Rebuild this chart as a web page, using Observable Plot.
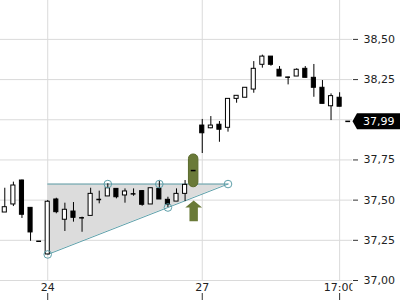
<!DOCTYPE html>
<html><head><meta charset="utf-8">
<script src="https://cdn.jsdelivr.net/npm/d3@7"></script>
<script src="https://cdn.jsdelivr.net/npm/@observablehq/plot@0.6"></script>
<style>
body{margin:0;background:#fff;}
#chart{width:400px;height:300px;overflow:hidden;}
</style>
</head><body><div id="chart"></div>
<script>
// ---- data ----
const openV  = [37.423,37.473,37.622,37.452,37.244,37.162,37.504,37.378,37.429,37.390,37.402,37.504,37.523,37.570,37.529,37.539,37.556,37.473,37.570,37.502,37.491,37.539,37.684,37.964,37.947,37.969,37.950,38.130,38.137,38.188,38.342,38.393,38.311,38.265,38.269,38.317,38.261,38.199,38.084,38.137,37.990];
const highV  = [37.574,37.612,37.625,37.452,37.244,37.498,37.512,37.481,37.485,37.394,37.574,37.556,37.602,37.570,37.570,37.570,37.560,37.574,37.618,37.518,37.570,37.622,37.684,38.002,38.020,37.989,38.130,38.149,38.199,38.362,38.402,38.393,38.331,38.265,38.317,38.331,38.344,38.244,38.161,38.168,37.990];
const lowV   = [37.423,37.460,37.386,37.244,37.244,37.162,37.415,37.305,37.363,37.300,37.402,37.477,37.523,37.508,37.481,37.524,37.462,37.473,37.504,37.454,37.491,37.491,37.684,37.790,37.944,37.860,37.923,38.103,38.137,38.165,38.321,38.333,38.269,38.217,38.269,38.261,38.140,38.099,37.995,38.081,37.990];
const closeV = [37.456,37.591,37.409,37.299,37.244,37.490,37.425,37.440,37.390,37.390,37.539,37.504,37.574,37.518,37.554,37.539,37.471,37.574,37.504,37.471,37.539,37.595,37.684,37.916,37.964,37.938,38.130,38.149,38.199,38.317,38.393,38.342,38.269,38.265,38.311,38.261,38.199,38.099,38.147,38.081,37.990];

const xTickIndex  = [5, 23, 39];
const xTickLabels = ["24", "27", "17:00"];
const yGridTicks  = [37.00, 37.25, 37.50, 37.75, 38.00, 38.25, 38.50];
const yLabelTicks = [37.00, 37.25, 37.50, 37.75, 38.25, 38.50]; // 38,00 is hidden behind the price tag
const lastPrice = 37.99;

// ascending triangle pattern
const triIndex  = [5, 26];
const triLow    = [37.162, 37.60];
const triTop    = 37.60;
const pivotIndex = [5, 12, 18, 19, 26];
const pivotValue = [37.162, 37.60, 37.60, 37.454, 37.60];

// breakout signal
const signalIndex = 22;
const signalPill  = [37.580, 37.784];
const signalArrow = 37.433;

// ---- build tables ----
const candles = openV.map((o, i) => ({i, open: o, high: highV[i], low: lowV[i], close: closeV[i]}));
const bodies = candles.filter(d => Math.abs(d.open - d.close) > 0.002);
const dojis  = candles.filter(d => Math.abs(d.open - d.close) <= 0.002);
const tri = triIndex.map((x, k) => ({x, y1: triLow[k], y2: triTop}));
const pivots = pivotIndex.map((x, k) => ({x, y: pivotValue[k]}));
const fmt = d => d.toFixed(2).replace(".", ",");

const TEAL = "#5fa0aa", OLIVE = "#6a7a38", GRID = "#dadada";
const hw = 0.24;

const upArrow = {draw(ctx) {
  ctx.moveTo(0, -10.3); ctx.lineTo(8.4, -3.3); ctx.lineTo(4.2, -3.3); ctx.lineTo(4.2, 10.3);
  ctx.lineTo(-4.2, 10.3); ctx.lineTo(-4.2, -3.3); ctx.lineTo(-8.4, -3.3); ctx.closePath();
}};
const priceTag = {draw(ctx) {
  ctx.moveTo(0, 0); ctx.lineTo(4.5, -8); ctx.lineTo(60, -8); ctx.lineTo(60, 8); ctx.lineTo(4.5, 8); ctx.closePath();
}};

const chart = Plot.plot({
  width: 400, height: 300,
  marginLeft: 0, marginRight: 48, marginTop: 0, marginBottom: 20,
  style: {fontFamily: "DejaVu Sans", fontSize: "11px", color: "#333", background: "white"},
  x: {type: "linear", domain: [-0.5, 40.5], axis: null},
  y: {type: "linear", domain: [37, 38.742], axis: null},
  marks: [
    Plot.gridY(yGridTicks, {stroke: GRID, strokeOpacity: 1}),
    Plot.gridX(xTickIndex, {stroke: GRID, strokeOpacity: 1}),
    // triangle
    Plot.areaY(tri, {x: "x", y1: "y1", y2: "y2", fill: "#dcdcdc", fillOpacity: 1}),
    Plot.line(tri, {x: "x", y: "y1", stroke: TEAL, strokeWidth: 1}),
    Plot.line(tri, {x: "x", y: "y2", stroke: TEAL, strokeWidth: 1}),
    // signal
    Plot.rect([signalPill], {x1: () => signalIndex - 0.55, x2: () => signalIndex + 0.55, y1: d => d[0], y2: d => d[1], rx: 4.6, fill: OLIVE, stroke: "#5a6a2c"}),
    Plot.dot([signalArrow], {x: () => signalIndex, y: d => d, symbol: upArrow, fill: OLIVE}),
    // candles
    Plot.ruleX(candles, {x: "i", y1: "low", y2: "high", stroke: "black", strokeWidth: 1}),
    Plot.rect(bodies, {x1: d => d.i - hw, x2: d => d.i + hw, y1: "open", y2: "close",
      fill: d => d.close >= d.open ? "white" : "black", stroke: "black", strokeWidth: 1}),
    Plot.ruleY(dojis, {y: "close", x1: d => d.i - hw - 0.04, x2: d => d.i + hw + 0.04, stroke: "black", strokeWidth: 1.5}),
    // pivots
    Plot.dot(pivots, {x: "x", y: "y", r: 3.8, stroke: TEAL, fill: "none", strokeWidth: 1}),
    // axes
    Plot.axisX({ticks: xTickIndex, tickFormat: d => xTickLabels[xTickIndex.indexOf(d)], tickSize: 0, tickPadding: 3, fontSize: 11, label: null, fill: "#222"}),
    Plot.axisX({ticks: xTickIndex, tickFormat: () => "", tickSize: 7, dy: 13, label: null, stroke: "#333"}),
    Plot.axisY({ticks: yLabelTicks, anchor: "right", tickSize: 5, tickPadding: 6, tickFormat: fmt, fontSize: 11, label: null, fill: "#222", stroke: "#333"}),
    // last price tag
    Plot.dot([lastPrice], {x: () => 40.5, y: d => d, symbol: priceTag, fill: "black"}),
    Plot.text([lastPrice], {x: () => 40.5, y: d => d, text: fmt, dx: 10.5, textAnchor: "start", fill: "white", fontSize: 11})
  ]
});
document.getElementById("chart").appendChild(chart);

// clip the time labels to the plotting area (as in the reference)
const svg = d3.select(chart);
const W = 400 - 48;
svg.append("defs").append("clipPath").attr("id", "xclip")
  .append("rect").attr("x", 0).attr("y", 0).attr("width", W).attr("height", 300);
svg.selectAll('g[aria-label="x-axis tick label"]').attr("clip-path", "url(#xclip)");
</script>
</body></html>
